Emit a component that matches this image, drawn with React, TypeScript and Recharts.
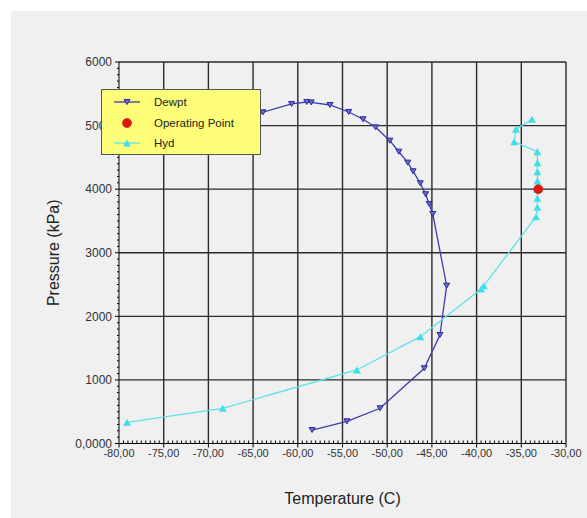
import { Label, ReferenceLine, Scatter, ScatterChart, XAxis, YAxis } from "recharts";

// dew point curve, from the low-pressure end round the cricondentherm to the top
const dewptT = [
  -58.4, -54.5, -50.8, -45.85, -44.1, -43.35, -44.9, -45.3, -45.7, -46.3, -47.1, -47.7,
  -48.7, -49.7, -51.3, -52.7, -54.3, -56.4, -58.5, -59.0, -60.7, -63.9, -67.5,
];
const dewptP = [
  212, 349, 554, 1183, 1707, 2482, 3609, 3767, 3920, 4093, 4281, 4417,
  4589, 4763, 4973, 5099, 5214, 5324, 5365, 5371, 5340, 5209, 5020,
];

// hydrate formation curve
const hydT = [
  -79.1, -68.4, -53.4, -46.3, -39.5, -39.2, -33.35, -33.2, -33.2, -33.2, -33.2, -33.2,
  -33.2, -33.2, -35.8, -35.6, -33.8,
];
const hydP = [
  333, 554, 1156, 1680, 2430, 2480, 3567, 3715, 3857, 4000, 4129, 4275,
  4417, 4589, 4747, 4942, 5099,
];

const opT = [-33.1];
const opP = [4000];

const xMajor = [-80, -75, -70, -65, -60, -55, -50, -45, -40, -35, -30];
const yMajor = [0, 1000, 2000, 3000, 4000, 5000, 6000];
// minor ticks: every 0.5 C and every 100 kPa
const xTicks = Array.from({ length: 101 }, (_, i) => -80 + i * 0.5);
const yTicks = Array.from({ length: 61 }, (_, i) => i * 100);

const toPoints = (xs: number[], ys: number[]) => xs.map((x, i) => ({ x, y: ys[i] }));

const FONT = "'Liberation Sans', Arial, sans-serif";
const GRID = "#2a2a2a";

const fmtX = (v: number) => v.toFixed(2).replace(".", ",");
const fmtY = (v: number) => (v === 0 ? "0,0000" : String(v));

const XTick = ({ x, y, payload }: any) => {
  const v = payload.value;
  const major = xMajor.includes(v);
  return (
    <g>
      <line x1={x} x2={x} y1={y} y2={major ? y + 4 : y - 3} stroke="#000" />
      {major && (
        <text x={x} y={y + 10} dy="0.35em" textAnchor="middle" fontSize={11} fill="#333" fontFamily={FONT}>
          {fmtX(v)}
        </text>
      )}
    </g>
  );
};

const YTick = ({ x, y, payload }: any) => {
  const v = payload.value;
  const major = yMajor.includes(v);
  return (
    <g>
      <line x1={x} x2={major ? x - 4 : x - 2} y1={y} y2={y} stroke="#000" />
      {major && (
        <text x={x - 7} y={y} dy="0.35em" textAnchor="end" fontSize={12} fill="#333" fontFamily={FONT}>
          {fmtY(v)}
        </text>
      )}
    </g>
  );
};

const DownTri = ({ cx, cy }: any) => (
  <path
    d={`M${cx - 3},${cy - 2.5}L${cx + 3},${cy - 2.5}L${cx},${cy + 2.5}Z`}
    fill="#6a6ad0"
    stroke="#2b2b99"
    strokeWidth={1}
  />
);
const UpTri = ({ cx, cy }: any) => (
  <path d={`M${cx - 4},${cy + 3.5}L${cx + 4},${cy + 3.5}L${cx},${cy - 3.5}Z`} fill="#3ee0e8" />
);
const RedDot = ({ cx, cy }: any) => <circle cx={cx} cy={cy} r={4.5} fill="#e3160e" stroke="#b80e08" strokeWidth={0.6} />;

const legendItems = [
  { name: "Dewpt", line: "#3c3cb0", marker: "down" },
  { name: "Operating Point", line: "", marker: "dot" },
  { name: "Hyd", line: "#5fe3e8", marker: "up" },
];

function LegendBox() {
  return (
    <div
      style={{
        position: "absolute",
        left: 90,
        top: 78,
        width: 160,
        height: 66,
        background: "#fefe78",
        border: "1px solid #555",
        boxSizing: "border-box",
        fontFamily: FONT,
        fontSize: 11.5,
        color: "#222",
      }}
    >
      {legendItems.map((it, i) => (
        <div
          key={it.name}
          style={{ position: "absolute", left: 11, top: 2 + i * 20.5, height: 20, display: "flex", alignItems: "center" }}
        >
          <svg width={28} height={20}>
            {it.line && <line x1={1} x2={27} y1={10} y2={10} stroke={it.line} strokeWidth={1.3} />}
            {it.marker === "down" && <DownTri cx={14} cy={10} />}
            {it.marker === "up" && <UpTri cx={14} cy={10} />}
            {it.marker === "dot" && <RedDot cx={14} cy={10} />}
          </svg>
          <span style={{ marginLeft: 13 }}>{it.name}</span>
        </div>
      ))}
    </div>
  );
}

export default function App() {
  return (
    <div
      style={{
        position: "fixed",
        left: 11,
        top: 11,
        width: 576,
        height: 507,
        background: "#f0f0f0",
        fontFamily: FONT,
      }}
    >
      <ScatterChart width={576} height={507} margin={{ top: 51, right: 21, left: 0, bottom: 0 }}>
        <XAxis
          type="number"
          dataKey="x"
          domain={[-80, -30]}
          ticks={xTicks}
          interval={0}
          allowDataOverflow
          height={74.5}
          tickSize={0}
          tickMargin={0}
          tickLine={false}
          axisLine={{ stroke: "#000" }}
          tick={<XTick />}
        >
          <Label
            content={(p: any) => {
              const vb = p.viewBox;
              return (
                <text x={vb.x + vb.width / 2} y={vb.y + 55} dy="0.35em" textAnchor="middle" fontSize={16} fill="#222" fontFamily={FONT}>
                  Temperature (C)
                </text>
              );
            }}
          />
        </XAxis>
        <YAxis
          type="number"
          dataKey="y"
          domain={[0, 6000]}
          ticks={yTicks}
          interval={0}
          allowDataOverflow
          width={108}
          tickSize={0}
          tickMargin={0}
          tickLine={false}
          axisLine={{ stroke: "#000" }}
          tick={<YTick />}
        >
          <Label
            content={(p: any) => {
              const vb = p.viewBox;
              const cx = vb.x + 42;
              const cy = vb.y + vb.height / 2;
              return (
                <text x={cx} y={cy} dy="0.35em" textAnchor="middle" transform={`rotate(-90 ${cx} ${cy})`} fontSize={16} fill="#222" fontFamily={FONT}>
                  Pressure (kPa)
                </text>
              );
            }}
          />
        </YAxis>
        {xMajor.slice(1).map((v) => (
          <ReferenceLine key={`vx${v}`} x={v} stroke={GRID} strokeWidth={1.4} />
        ))}
        {yMajor.slice(1).map((v) => (
          <ReferenceLine key={`hy${v}`} y={v} stroke={GRID} strokeWidth={1.4} />
        ))}
        <Scatter
          name="Dewpt"
          data={toPoints(dewptT, dewptP)}
          line={{ stroke: "#3c3cb0", strokeWidth: 1.3 }}
          shape={<DownTri />}
          isAnimationActive={false}
        />
        <Scatter
          name="Hyd"
          data={toPoints(hydT, hydP)}
          line={{ stroke: "#5fe3e8", strokeWidth: 1.3 }}
          shape={<UpTri />}
          isAnimationActive={false}
        />
        <Scatter name="Operating Point" data={toPoints(opT, opP)} shape={<RedDot />} isAnimationActive={false} />
      </ScatterChart>
      <LegendBox />
    </div>
  );
}
